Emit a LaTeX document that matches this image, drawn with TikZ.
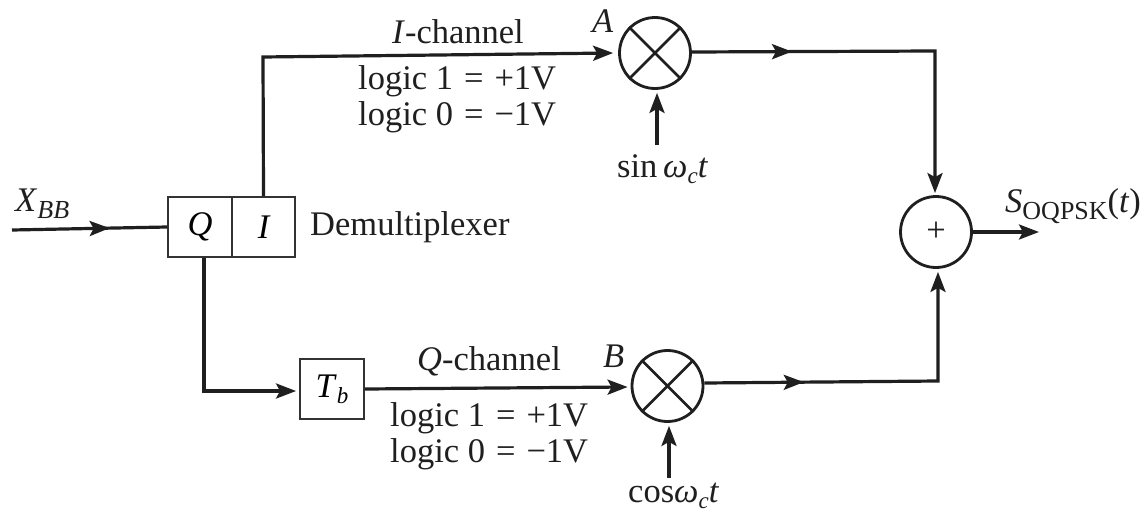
\documentclass[tikz,border=0pt]{standalone}
\usepackage{fontspec}
\setmainfont{Liberation Serif}
\usetikzlibrary{arrows.meta,decorations.markings,calc}
\newcommand{\Sb}[1]{\raisebox{-7pt}{\fontsize{26}{26}\selectfont #1}}
\newcommand{\Sc}[1]{\raisebox{-6pt}{\fontsize{23}{23}\selectfont #1}}
\newcommand{\Lg}[2]{logic #1\hspace{11pt}=\hspace{11pt}#2}
\tikzset{
  px/.style={x=1pt,y=-1pt},
  wire/.style={line width=3.2pt,draw=black!88,line join=miter},
  headtip/.style={-{Stealth[length=20pt,width=15pt,inset=4pt]}},
  midtip/.style={postaction={decorate},decoration={markings,mark=at position #1 with {\arrow{Stealth[length=20pt,width=15pt,inset=4pt]}}}},
  mix/.style={circle,draw=black!88,line width=2.8pt,minimum size=71pt,inner sep=0pt},
  cellbox/.style={rectangle,draw=black!80,line width=1.9pt,inner sep=0pt,minimum height=60pt,font=\fontsize{34.5}{36}\selectfont\itshape},
  delaybox/.style={rectangle,draw=black!80,line width=1.9pt,inner sep=0pt,minimum width=64pt,minimum height=60pt,font=\fontsize{34.5}{36}\selectfont},
  lab/.style={inner sep=0pt,font=\fontsize{34.5}{36}\selectfont,align=center,text=black!88},
}
\begin{document}
\begin{tikzpicture}[px]
\useasboundingbox[fill=white] (0,0) rectangle (1142,514);
\coordinate (start) at (12,230);
\node[cellbox,minimum width=64pt] (q) at (200,227) {\raisebox{-3pt}{Q}};
\node[cellbox,minimum width=63pt] (i) at (263.5,227) {\raisebox{-3pt}{I}};
\node[mix] (a) at (655,53) {};
\node[mix] (b) at (667.5,386) {};
\node[mix] (sum) at (936,232) {};
\node[lab] (plus) at (sum) {+};
\node[delaybox] (tb) at (332,389) {\textit{T}\Sc{\textit{b}}};
\draw[black!88,line width=2.6pt] (a.45)--(a.225) (a.135)--(a.315);
\draw[black!88,line width=2.6pt] (b.45)--(b.225) (b.135)--(b.315);
\coordinate (sinsrc) at (657,145);
\coordinate (cossrc) at (669,478);
\coordinate (out) at (1039,232);
\coordinate (cI) at (263,57);
\coordinate (cQ) at (204,391);
\coordinate (cA) at (935,51);
\coordinate (cB) at (938,381);
\draw[wire,midtip=0.63] (start)--(q.west);
\draw[wire,headtip] ($(i.north)+(0,0)$) -- (cI) -- ($(a.west)+(-5,0)$);
\draw[wire,headtip] ($(q.south)+(4,0)$) -- (cQ) -- ($(tb.west)+(-3,2)$);
\draw[wire,headtip] (tb.east)--($(b.west)+(-3,1)$);
\draw[wire,headtip] (sinsrc)--($(a.south)+(2,3)$);
\draw[wire,headtip] (cossrc)--($(b.south)+(1.5,3)$);
\draw[wire,headtip,midtip=0.26] ($(a.east)+(0,-1)$) -- (cA) -- ($(sum.north)+(-1,-2)$);
\draw[wire,headtip,midtip=0.29] ($(b.east)+(0,-3)$) -- (cB) -- ($(sum.south)+(2,3)$);
\draw[wire,headtip] (sum.east)--(out);
\node[lab,anchor=base west] (xbb) at (15,211) {\textit{X}\Sb{\textit{BB}}};
\node[lab,anchor=base west] (dem) at (310,235) {Demultiplexer};
\node[lab,anchor=base west] (ich) at (392,43) {\textit{I}-channel};
\node[lab,anchor=base west] (il1) at (358,89) {\Lg{1}{+1V}};
\node[lab,anchor=base west] (il0) at (358,125) {\Lg{0}{−1V}};
\node[lab,anchor=base west] (la) at (592,32) {\textit{A}};
\node[lab,anchor=base west] (lb) at (603,367) {\textit{B}};
\node[lab,anchor=base west] (qch) at (417,370) {\textit{Q}-channel};
\node[lab,anchor=base west] (ql1) at (390,426) {\Lg{1}{+1V}};
\node[lab,anchor=base west] (ql0) at (390,462) {\Lg{0}{−1V}};
\node[lab,anchor=base west] (sl) at (617,177) {sin\,\textit{ω}\Sc{\textit{c}}\textit{t}};
\node[lab,anchor=base west] (cl) at (628,502) {cos\textit{ω}\Sc{\textit{c}}\textit{t}};
\node[lab,anchor=base west] (sout) at (1005,212) {\textit{S}\Sb{OQPSK}(\textit{t})};
\end{tikzpicture}
\end{document}
